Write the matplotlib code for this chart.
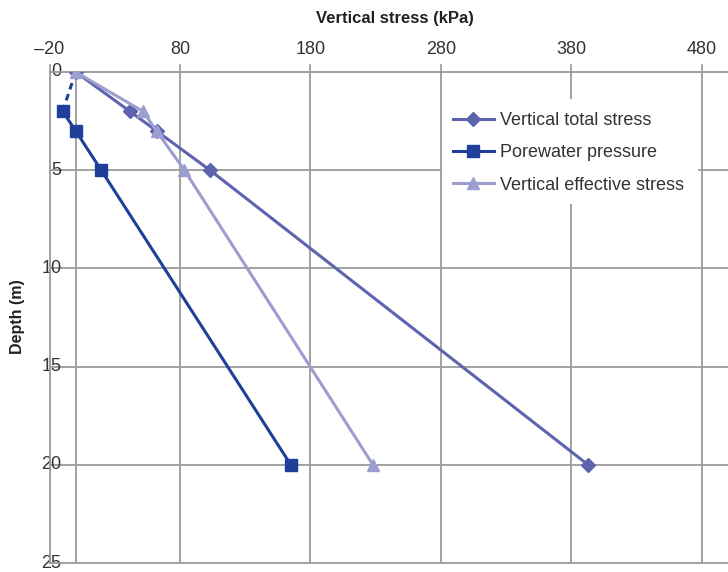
import matplotlib
matplotlib.use("Agg")
import matplotlib.pyplot as plt
from matplotlib.patches import Rectangle

# depth (m) vs. stresses (kPa)
depth = [0, 2, 3, 5, 20]
total_stress = [0, 41.5, 62, 103, 393]
pore_depth = [2, 3, 5, 20]
pore_pressure = [-10, 0, 19.6, 165]
suction_depth = [0, 2]
suction_pressure = [0, -10]
effective_stress = [0, 51.5, 62, 83.4, 228]

x_ticks = [-20, 80, 180, 280, 380, 480]
y_ticks = [0, 5, 10, 15, 20, 25]

c_total = "#5d64ad"
c_pore = "#1f3f98"
c_eff = "#9c9ecf"
grid_c = "#9a9a9a"

W, H = 728, 572
plt.rcParams["font.family"] = ["Liberation Sans", "DejaVu Sans"]

fig = plt.figure(figsize=(W / 100, H / 100), dpi=100)
ax = fig.add_axes([49.6 / W, 9 / H, (727.6 - 49.6) / W, (563 - 72) / H])

ax.plot(suction_pressure, suction_depth, color=c_pore, lw=2.2, ls=(0, (2.2, 1.6)), zorder=3)
ax.plot(pore_pressure, pore_depth, color=c_pore, lw=2.2, marker="s", ms=8.5, zorder=4,
        label="Porewater pressure")
ax.plot(total_stress, depth, color=c_total, lw=2.2, marker="D", ms=7.5, zorder=5,
        label="Vertical total stress")
ax.plot(effective_stress, depth, color=c_eff, lw=2.2, marker="^", ms=8.5, zorder=6,
        label="Vertical effective stress")

ax.set_xlim(-20, 500)
ax.set_ylim(25, 0)
ax.xaxis.set_ticks_position("top")
ax.set_xticks(x_ticks)
ax.set_xticklabels(["\u201320"] + [str(v) for v in x_ticks[1:]])
ax.set_yticks(y_ticks)
ax.tick_params(axis="x", length=6, width=1.2, color=grid_c, pad=4, labelsize=13,
               labelcolor="#333333")
ax.tick_params(axis="y", length=0, pad=-8.6, labelsize=13, labelcolor="#333333")
for lab in ax.get_yticklabels():
    lab.set_verticalalignment("center")

for x in x_ticks[1:] + [0]:
    ax.axvline(x, color=grid_c, lw=1.3, zorder=1)
for y in y_ticks[1:-1]:
    ax.axhline(y, color=grid_c, lw=1.3, zorder=1)

for side in ["top", "left", "bottom"]:
    ax.spines[side].set_color(grid_c)
    ax.spines[side].set_linewidth(1.3)
ax.spines["right"].set_visible(False)

fig.text(394.5 / W, 1 - 18 / H, "Vertical stress (kPa)", ha="center", va="center",
         fontsize=12, fontweight="bold", color="#222222")
fig.text(18 / W, 1 - 317 / H, "Depth (m)", ha="center", va="center", rotation=90,
         fontsize=11.5, fontweight="bold", color="#222222")

# white legend background covering the gridlines (edge gridlines stay visible)
ax.add_patch(Rectangle((442 / W, 1 - 204 / H), (698 - 442) / W, (204 - 99) / H,
                       transform=fig.transFigure, facecolor="white",
                       edgecolor="none", zorder=2))

handles, labels = ax.get_legend_handles_labels()
order = [1, 0, 2]
leg = ax.legend([handles[i] for i in order], [labels[i] for i in order],
                loc="upper left",
                bbox_to_anchor=(453 / W, 1 - 112 / H), bbox_transform=fig.transFigure,
                frameon=False, handlelength=2.27, handletextpad=0.33,
                labelspacing=0.85, borderpad=0, borderaxespad=0,
                prop={"size": 13})
for t in leg.get_texts():
    t.set_color("#333333")

fig.savefig("out.png", dpi=100)
